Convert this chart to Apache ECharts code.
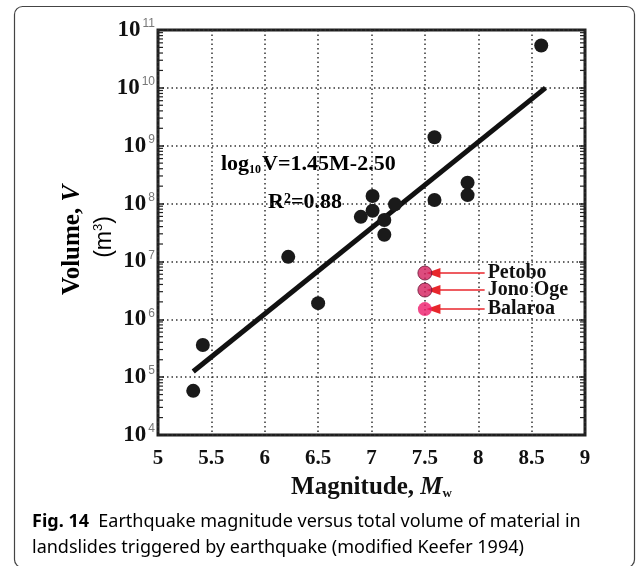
<!DOCTYPE html>
<html>
<head>
<meta charset="utf-8">
<script src="https://cdn.jsdelivr.net/npm/echarts@6/dist/echarts.min.js"></script>
<style>
    html, body { margin: 0; padding: 0; background: #fff; }
    #chart { width: 637px; height: 566px; }
</style>
</head>
<body>
<div id="chart"></div>
<script>
// landslide volume vs magnitude (modified Keefer 1994)
var magnitudes = [5.33, 5.42, 6.22, 6.50, 6.90, 7.01, 7.01, 7.12, 7.12, 7.22, 7.59, 7.59, 7.90, 7.90, 8.59];
var volumes = [5.8e4, 3.6e5, 1.2e7, 1.9e6, 5.9e7, 1.35e8, 7.5e7, 5.2e7, 2.9e7, 9.7e7, 1.4e9, 1.15e8, 2.3e8, 1.4e8, 5.4e10];

// 2018 Palu events
var paluNames = ['Petobo', 'Jono Oge', 'Balaroa'];
var paluMagnitudes = [7.5, 7.5, 7.5];
var paluVolumes = [6.3e6, 3.2e6, 1.5e6];

// regression line end points
var fitMagnitudes = [5.33, 8.63];
var fitVolumes = [1.25e5, 1.0e10];

var xTicks = [5, 5.5, 6, 6.5, 7, 7.5, 8, 8.5, 9];
var yExponents = [4, 5, 6, 7, 8, 9, 10, 11];

var arrowFrom = 8.06;
var arrowTo = 7.58;

var serif = 'Liberation Serif';
var sans = 'Liberation Sans';

var pts = magnitudes.map(function (m, i) { return [m, volumes[i]]; });
var fitLine = fitMagnitudes.map(function (m, i) { return [m, fitVolumes[i]]; });
var paluPts = paluNames.map(function (n, i) {
    var strong = i < 2;
    return {
        name: n,
        value: [paluMagnitudes[i], paluVolumes[i]],
        itemStyle: strong ? { color: '#d41f5e', borderColor: '#6a1434', borderWidth: 1 } : { color: '#ee1b6c' }
    };
});

// log minor ticks (2..9 in every decade)
var minorTicks = [];
for (var e = yExponents[0]; e < yExponents[yExponents.length - 1]; e++) {
    for (var k = 2; k <= 9; k++) {
        minorTicks.push([xTicks[0], k * Math.pow(10, e)]);
    }
}

var chart = echarts.init(document.getElementById('chart'));

var yLabel = {
    margin: 3,
    formatter: function (v) {
        return '{b|10}{s|' + Math.round(Math.log10(v)) + '}';
    },
    rich: {
        b: { fontFamily: serif, fontWeight: 'bold', fontSize: 23, color: '#111', lineHeight: 24 },
        s: { fontFamily: sans, fontSize: 12, color: '#777', verticalAlign: 'top', lineHeight: 24, padding: [0, 0, 8, 2] }
    }
};

var option = {
    backgroundColor: '#fff',
    animation: false,
    grid: {
        left: 158, top: 30, right: 52, bottom: 131,
        show: true, borderColor: '#1e1e1e', borderWidth: 3
    },
    xAxis: {
        type: 'value',
        min: xTicks[0], max: xTicks[xTicks.length - 1], interval: 0.5,
        axisLine: { show: false },
        axisTick: { show: false },
        axisLabel: {
            margin: 13,
            fontFamily: serif, fontWeight: 'bold', fontSize: 21, color: '#111'
        },
        splitLine: { show: true, lineStyle: { color: '#333', width: 1.5, type: [1.5, 3] } },
        name: '{a|Magnitude, }{m|M}{w|w}',
        nameLocation: 'middle',
        nameGap: 40,
        nameTextStyle: {
            rich: {
                a: { fontFamily: serif, fontWeight: 'bold', fontSize: 25, color: '#111' },
                m: { fontFamily: serif, fontWeight: 'bold', fontStyle: 'italic', fontSize: 25, color: '#111' },
                w: { fontFamily: serif, fontWeight: 'bold', fontSize: 13, color: '#111', verticalAlign: 'bottom', padding: [8, 0, 0, 0] }
            }
        }
    },
    yAxis: [{
        type: 'log', logBase: 10,
        min: Math.pow(10, yExponents[0]), max: Math.pow(10, yExponents[yExponents.length - 1]), interval: 1,
        axisLine: { show: false },
        axisTick: { show: true, inside: true, length: 6, lineStyle: { color: '#222', width: 1.5 } },
        axisLabel: yLabel,
        splitLine: { show: true, lineStyle: { color: '#333', width: 1.5, type: [1.5, 3] } }
    }, {
        type: 'log', logBase: 10, position: 'right',
        min: Math.pow(10, yExponents[0]), max: Math.pow(10, yExponents[yExponents.length - 1]), interval: 1,
        axisLine: { show: false },
        axisTick: { show: true, inside: true, length: 6, lineStyle: { color: '#222', width: 1.5 } },
        axisLabel: { show: false },
        splitLine: { show: false }
    }],
    series: [
        {
            type: 'custom',
            silent: true,
            data: minorTicks,
            renderItem: function (params, api) {
                var v = api.value(1);
                var l = api.coord([xTicks[0], v]);
                var r = api.coord([xTicks[xTicks.length - 1], v]);
                var st = { stroke: '#222', lineWidth: 1.2 };
                return {
                    type: 'group',
                    children: [
                        { type: 'line', shape: { x1: l[0], y1: l[1], x2: l[0] + 5, y2: l[1] }, style: st },
                        { type: 'line', shape: { x1: r[0] - 5, y1: r[1], x2: r[0], y2: r[1] }, style: st }
                    ]
                };
            }
        },
        {
            type: 'line',
            data: fitLine,
            symbol: 'none',
            lineStyle: { color: '#111', width: 5 },
            z: 3
        },
        {
            type: 'scatter',
            data: pts,
            symbolSize: 14,
            itemStyle: { color: '#1a1a1a', opacity: 1 },
            z: 4
        },
        {
            type: 'scatter',
            data: paluPts,
            symbolSize: 14,
            z: 5,
            markLine: {
                silent: true,
                symbol: ['none', 'triangle'],
                symbolSize: [10, 14],
                lineStyle: { color: '#e8262c', width: 1.5, type: 'solid' },
                itemStyle: { color: '#e8262c' },
                label: {
                    show: true, position: 'start', distance: 3,
                    formatter: '{b}',
                    fontFamily: serif, fontWeight: 'bold', fontSize: 20, color: '#111'
                },
                data: paluNames.map(function (n, i) {
                    return [{ name: n, coord: [arrowFrom, paluVolumes[i]] }, { coord: [arrowTo, paluVolumes[i]] }];
                })
            }
        }
    ],
    graphic: [
        {
            type: 'rect', silent: true,
            shape: { x: 14.5, y: 6.5, width: 620, height: 561, r: 8 },
            style: { fill: 'none', stroke: '#444', lineWidth: 1.2 }
        },
        {
            type: 'text', x: 221, y: 164,
            style: {
                text: '{a|log}{s|10}{a|V=1.45M-2.50}',
                verticalAlign: 'middle',
                rich: {
                    a: { fontFamily: serif, fontWeight: 'bold', fontSize: 22, color: '#111', lineHeight: 24 },
                    s: { fontFamily: serif, fontWeight: 'bold', fontSize: 12, color: '#111', verticalAlign: 'bottom', lineHeight: 24, padding: [6, 1, 0, 0] }
                }
            }
        },
        {
            type: 'text', x: 268, y: 202,
            style: {
                text: '{a|R}{s|2}{a|=0.88}',
                verticalAlign: 'middle',
                rich: {
                    a: { fontFamily: serif, fontWeight: 'bold', fontSize: 22, color: '#111', lineHeight: 24 },
                    s: { fontFamily: serif, fontWeight: 'bold', fontSize: 14, color: '#111', verticalAlign: 'top', lineHeight: 24, padding: [2, 0, 0, 0] }
                }
            }
        },
        {
            type: 'text', x: 73, y: 240, rotation: Math.PI / 2,
            style: {
                text: '{a|Volume, }{v|V}',
                align: 'center', verticalAlign: 'middle',
                rich: {
                    a: { fontFamily: serif, fontWeight: 'bold', fontSize: 25, color: '#111' },
                    v: { fontFamily: serif, fontWeight: 'bold', fontStyle: 'italic', fontSize: 25, color: '#111' }
                }
            }
        },
        {
            type: 'text', x: 105, y: 237, rotation: Math.PI / 2,
            style: {
                text: '{a|(m}{s|3}{a|)}',
                align: 'center', verticalAlign: 'middle',
                rich: {
                    a: { fontFamily: sans, fontSize: 23, color: '#111', lineHeight: 26 },
                    s: { fontFamily: sans, fontSize: 13, color: '#111', verticalAlign: 'top', lineHeight: 26 }
                }
            }
        },
        {
            type: 'text', x: 32, y: 522,
            style: {
                text: '{b|Fig. 14}{r|  Earthquake magnitude versus total volume of material in}',
                verticalAlign: 'middle',
                rich: {
                    b: { fontFamily: 'Noto Sans', fontWeight: 'bold', fontSize: 18, color: '#222' },
                    r: { fontFamily: 'Noto Sans', fontSize: 18, color: '#333' }
                }
            }
        },
        {
            type: 'text', x: 32, y: 548,
            style: {
                text: '{r|landslides triggered by earthquake (modified Keefer }{blue|1994}{r|)}',
                verticalAlign: 'middle',
                rich: {
                    r: { fontFamily: 'Noto Sans', fontSize: 18, color: '#333' },
                    blue: { fontFamily: 'Noto Sans', fontSize: 18, color: '#3550d8' }
                }
            }
        }
    ]
};

chart.setOption(option);
</script>
</body>
</html>
